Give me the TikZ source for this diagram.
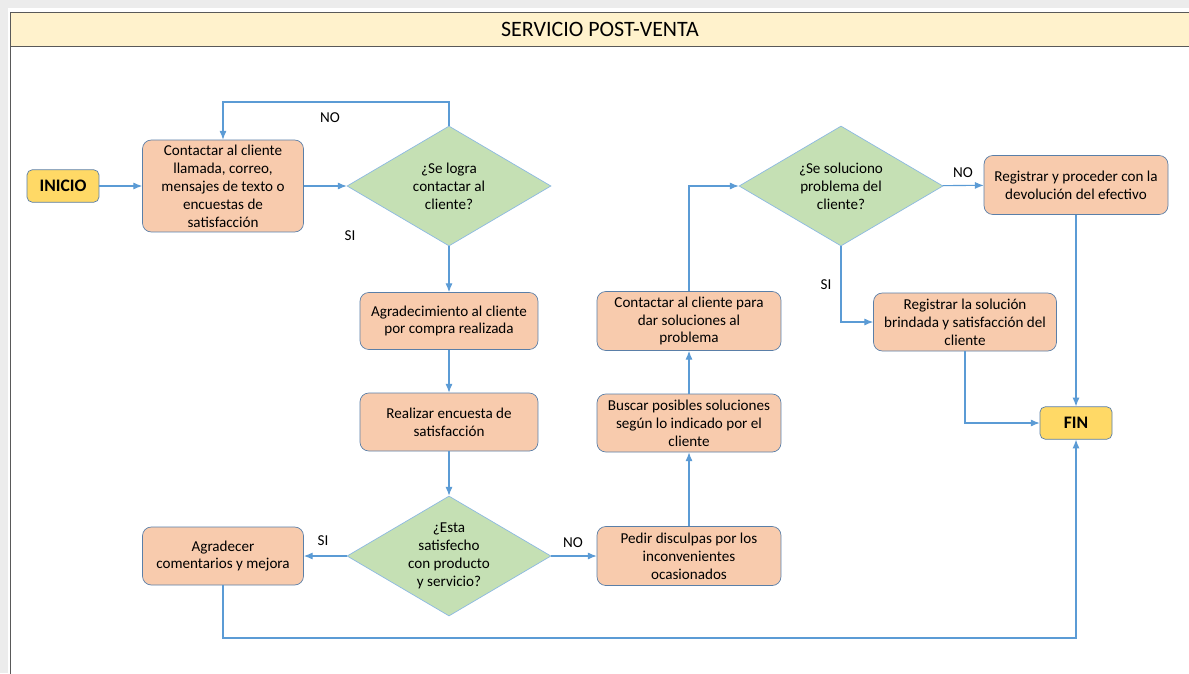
\documentclass[tikz,border=0pt]{standalone}
\usepackage{fontspec}
\setmainfont{Carlito}
\usetikzlibrary{shapes.geometric,arrows.meta}

\definecolor{paso}{HTML}{F8CBAD}
\definecolor{pregunta}{HTML}{C5E0B4}
\definecolor{extremo}{HTML}{FFD966}
\definecolor{borde}{HTML}{5A7FA8}
\definecolor{linea}{HTML}{5B9BD5}
\definecolor{titulo}{HTML}{FFF2CC}

\begin{document}
\begin{tikzpicture}[x=0.02cm,y=-0.02cm,
    font=\fontsize{8.6}{10.2}\selectfont,
    paso/.style={draw=borde, fill=paso, rounded corners=5pt, align=center, inner sep=1pt},
    pregunta/.style={draw=linea!70, fill=pregunta, diamond, aspect=1.7, inner sep=0pt, align=center,
                     minimum width=4.08cm, minimum height=2.4cm},
    extremo/.style={draw=borde, fill=extremo, rounded corners=3pt, font=\fontsize{10}{12}\selectfont\bfseries,
                    minimum width=1.44cm, minimum height=0.65cm},
    flecha/.style={draw=linea, semithick, -{Latex[length=5pt,width=4pt]}},
    etiqueta/.style={font=\fontsize{8.6}{10}\selectfont}]

  \useasboundingbox (0,0) rectangle (1189,673);

  % Marco y titulo
  \fill[gray!15] (0,0) rectangle (1189,673);
  \fill[white] (8,8) rectangle (1189,673);
  \draw[fill=titulo, draw=gray!70!black] (10,12) rectangle (1192,46);
  \draw[gray!70!black] (10,46) -- (10,675);
  \node[font=\fontsize{12.5}{15}\selectfont] (titulo) at (600,29) {SERVICIO POST-VENTA};

  % Inicio y contacto
  \node[extremo] (inicio) at (63,186) {INICIO};
  \node[paso, minimum width=3.22cm, minimum height=1.84cm] (contactar) at (223,186)
    {Contactar al cliente\\llamada, correo,\\mensajes de texto o\\encuestas de\\satisfacción};
  \node[pregunta] (logra) at (449,186) {¿Se logra\\contactar al\\cliente?};

  % Columna central
  \node[paso, minimum width=3.56cm, minimum height=1.14cm] (agradecimiento) at (449,321)
    {Agradecimiento al cliente\\por compra realizada};
  \node[paso, minimum width=3.56cm, minimum height=1.16cm] (encuesta) at (449,422)
    {Realizar encuesta de\\satisfacción};
  \node[pregunta] (satisfecho) at (449,556) {¿Esta\\satisfecho\\con producto\\y servicio?};
  \node[paso, minimum width=3.22cm, minimum height=1.16cm] (agradecer) at (223,556)
    {Agradecer\\comentarios y mejora};

  % Columna de soluciones
  \node[paso, minimum width=3.68cm, minimum height=1.18cm] (disculpas) at (689,556)
    {Pedir disculpas por los\\inconvenientes\\ocasionados};
  \node[paso, minimum width=3.68cm, minimum height=1.16cm] (buscar) at (689,423)
    {Buscar posibles soluciones\\según lo indicado por el\\cliente};
  \node[paso, minimum width=3.68cm, minimum height=1.18cm] (soluciones) at (689,321)
    {Contactar al cliente para\\dar soluciones al\\problema};
  \node[pregunta] (soluciono) at (841,186) {¿Se soluciono\\problema del\\cliente?};

  % Cierre
  \node[paso, minimum width=3.68cm, minimum height=1.18cm] (devolucion) at (1076,185)
    {Registrar y proceder con la\\devolución del efectivo};
  \node[paso, minimum width=3.66cm, minimum height=1.16cm] (registro) at (965,322)
    {Registrar la solución\\brindada y satisfacción del\\cliente};
  \node[extremo] (fin) at (1076,423) {FIN};

  % Conectores
  \draw[flecha] (inicio) -- (contactar);
  \draw[flecha] (contactar) -- (logra);
  \draw[flecha] (logra.north) |- (336,102) -| (contactar.north);
  \draw[flecha] (logra) -- (agradecimiento);
  \draw[flecha] (agradecimiento) -- (encuesta);
  \draw[flecha] (encuesta) -- (satisfecho);
  \draw[flecha] (satisfecho) -- (agradecer);
  \draw[flecha] (satisfecho) -- (disculpas);
  \draw[flecha] (disculpas) -- (buscar);
  \draw[flecha] (buscar) -- (soluciones);
  \draw[flecha] (soluciones.north) |- (soluciono.west);
  \draw[flecha] (soluciono) -- (devolucion);
  \draw[flecha] (soluciono.south) |- (registro.west);
  \draw[flecha] (devolucion) -- (fin);
  \draw[flecha] (registro.south) |- (fin.west);
  \draw[flecha] (agradecer.south) |- (650,638) -| (fin.south);

  % Etiquetas
  \node[etiqueta] (no1) at (330,118) {NO};
  \node[etiqueta] (si1) at (350,236) {SI};
  \node[etiqueta] (si2) at (323,541) {SI};
  \node[etiqueta] (no2) at (573,543) {NO};
  \node[etiqueta] (no3) at (963,173) {NO};
  \node[etiqueta] (si3) at (826,285) {SI};

\end{tikzpicture}
\end{document}
